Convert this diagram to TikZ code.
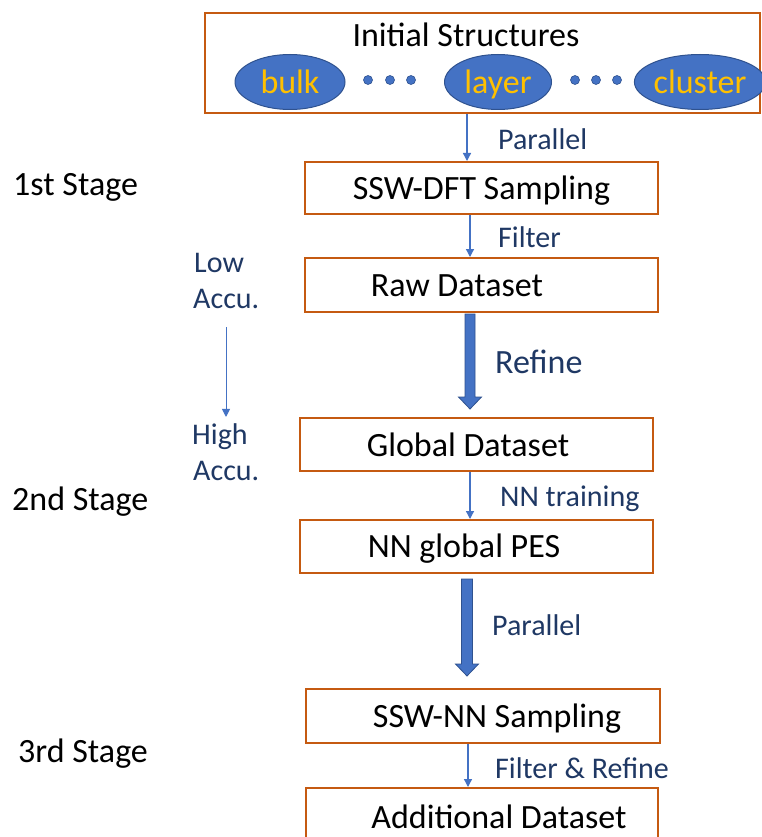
\documentclass[tikz,border=0pt]{standalone}
\usepackage{fontspec}
\setmainfont{Carlito}
\usetikzlibrary{arrows.meta,calc,shapes.geometric}
\definecolor{boxorange}{HTML}{C55A11}
\definecolor{accblue}{HTML}{4472C4}
\definecolor{accblueedge}{HTML}{2F528F}
\definecolor{navy}{HTML}{1F3864}
\definecolor{gold}{HTML}{FFC000}

\begin{document}
\begin{tikzpicture}[x=1pt,y=-1pt,
  stagebox/.style={draw=boxorange, line width=2pt, fill=white, inner sep=0pt},
  big/.style={font=\fontsize{34}{40}\selectfont},
  boxtext/.style={big, inner sep=0pt, anchor=base},
  stagetext/.style={big, inner sep=0pt, anchor=base west},
  lab/.style={font=\fontsize{30}{36}\selectfont, text=navy, inner sep=0pt, anchor=base west},
  blob/.style={ellipse, fill=accblue, draw=accblueedge, line width=1pt, text=gold, big,
               inner sep=0pt, text height=24pt, text depth=0pt},
  dot/.style={circle, fill=accblue, draw=accblueedge, line width=0.6pt, minimum size=9pt, inner sep=0pt},
  thinarrow/.style={draw=accblue, line width=1.3pt, -{Triangle[width=8pt,length=8pt]}},
  fatarrow/.style={fill=accblue, draw=accblueedge, line width=0.8pt}
]
\clip (0,0) rectangle (762,837);
\fill[white] (0,0) rectangle (762,837);

% connector columns
\coordinate (c1) at (467,0);
\coordinate (c2) at (470,0);
\coordinate (c3) at (470,0);
\coordinate (c4) at (470,0);
\coordinate (c5) at (467,0);
\coordinate (c6) at (468,0);
\coordinate (cacc) at (226,0);

% initial structures
\node[stagebox, minimum width=555pt, minimum height=100pt] (init) at (482.5,63) {};
\node[boxtext] (init-t) at (466,47) {Initial Structures};
\node[blob, minimum width=110pt, minimum height=55pt] (bulk) at (290,82) {bulk};
\node[blob, minimum width=107pt, minimum height=55pt] (layer) at (498,82) {layer};
\node[blob, minimum width=106pt, minimum height=55pt] (cluster) at (700,82) {cluster};
\node[dot] (d1) at (368,80) {};
\node[dot] (d2) at (390,80) {};
\node[dot] (d3) at (411,80) {};
\node[dot] (d4) at (575,80) {};
\node[dot] (d5) at (596,80) {};
\node[dot] (d6) at (617,80) {};

% process boxes
\node[stagebox, minimum width=353pt, minimum height=52pt] (sswdft) at (481.5,188) {};
\node[boxtext] (sswdft-t) at (481.5,199) {SSW-DFT Sampling};
\node[stagebox, minimum width=353pt, minimum height=54pt] (raw) at (481.5,285) {};
\node[boxtext] (raw-t) at (457,296) {Raw Dataset};
\node[stagebox, minimum width=353pt, minimum height=53pt] (glob) at (476.5,444.5) {};
\node[boxtext] (glob-t) at (468,456) {Global Dataset};
\node[stagebox, minimum width=353pt, minimum height=53pt] (nnpes) at (476.5,546.5) {};
\node[boxtext] (nnpes-t) at (464,557) {NN global PES};
\node[stagebox, minimum width=354pt, minimum height=54pt] (sswnn) at (483,716) {};
\node[boxtext] (sswnn-t) at (497,727) {SSW-NN Sampling};
\node[stagebox, minimum width=352pt, minimum height=62pt] (add) at (482,819) {};
\node[boxtext] (add-t) at (499,828) {Additional Dataset};

% thin connectors
\draw[thinarrow] (init.south -| c1) -- (sswdft.north -| c1);
\draw[thinarrow] (sswdft.south -| c2) -- (raw.north -| c2);
\draw[thinarrow] (glob.south -| c4) -- (nnpes.north -| c4);
\draw[thinarrow] (sswnn.south -| c6) -- (add.north -| c6);

% block arrows
\filldraw[fatarrow] let \p1=([yshift=-1pt]raw.south -| c3), \p2=([yshift=8pt]glob.north -| c3) in
  (\x1-5pt,\y1) -- (\x1+5pt,\y1) -- (\x1+5pt,\y2+12pt) -- (\x1+11.5pt,\y2+12pt) -- (\x1,\y2)
  -- (\x1-11.5pt,\y2+12pt) -- (\x1-5pt,\y2+12pt) -- cycle;
\filldraw[fatarrow] let \p1=([yshift=-5pt]nnpes.south -| c5), \p2=([yshift=12pt]sswnn.north -| c5) in
  (\x1-5.5pt,\y1) -- (\x1+5.5pt,\y1) -- (\x1+5.5pt,\y2+12pt) -- (\x1+11.5pt,\y2+12pt) -- (\x1,\y2)
  -- (\x1-11.5pt,\y2+12pt) -- (\x1-5.5pt,\y2+12pt) -- cycle;

% connector labels
\node[lab] (par1) at (498,150) {Parallel};
\node[lab] (filt) at (498,247) {Filter};
\node[lab, big] (refine) at (495,373) {Refine};
\node[lab] (nntr) at (500,506) {NN training};
\node[lab] (par2) at (492,635) {Parallel};
\node[lab] (filtref) at (495,778) {Filter \& Refine};

% stages
\node[stagetext] (st1) at (13,195) {1st Stage};
\node[stagetext] (st2) at (12,510) {2nd Stage};
\node[stagetext] (st3) at (18,762) {3rd Stage};

% accuracy scale
\node[lab] (low1) at (194,272) {Low};
\node[lab] (low2) at (193,308) {Accu.};
\node[lab] (high1) at (192,444) {High};
\node[lab] (high2) at (193,480) {Accu.};
\draw[thinarrow, line width=1pt] ([yshift=-19pt]low2.south -| cacc) -- ([yshift=6pt]high1.north -| cacc);
\end{tikzpicture}
\end{document}
